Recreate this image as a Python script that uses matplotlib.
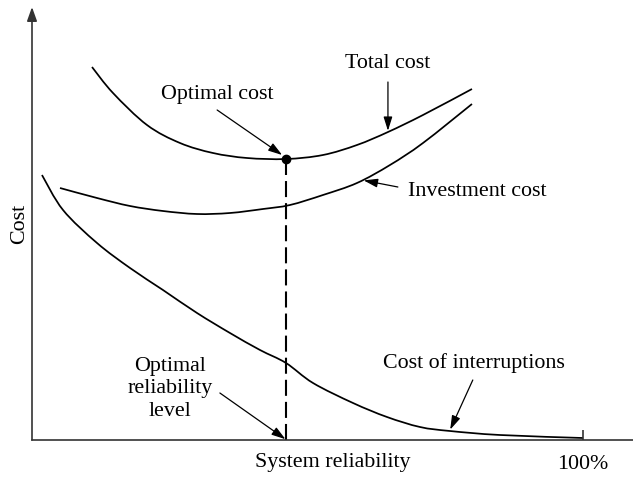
import matplotlib
matplotlib.use("Agg")
import matplotlib.pyplot as plt
from matplotlib.path import Path
from matplotlib.patches import PathPatch

plt.rcParams['font.family'] = ['Liberation Serif', 'DejaVu Serif']

# Data (x: system reliability in %, y: cost in arbitrary units)
total_x = [10.89, 14.70, 20.87, 26.86, 32.85, 39.02, 46.1, 52.81, 58.98, 64.61, 70.96, 79.85]
total_y = [93.25, 86.75, 78.75, 74.25, 71.75, 70.5, 70.25, 71.25, 73.75, 77.0, 81.25, 87.75]

invest_x = [5.08, 11.80, 17.79, 23.77, 29.95, 35.93, 41.92, 46.82, 52.81, 58.98, 64.97, 70.96, 79.85]
invest_y = [63.0, 60.5, 58.5, 57.25, 56.5, 56.75, 57.75, 58.75, 61.25, 64.25, 68.75, 74.25, 84.0]

interr_x = [1.81, 5.63, 11.80, 17.79, 23.77, 29.95, 35.93, 41.38, 46.1, 51.0, 58.26, 64.43,
            70.42, 75.86, 84.94, 100.0]
interr_y = [66.25, 57.5, 49.25, 43.0, 37.5, 31.75, 26.75, 22.5, 19.25, 14.25, 9.25, 5.75,
            3.25, 2.25, 1.25, 0.5]

optimal_x = 46.1
optimal_y = 70.25

xtick_vals = [100]
xtick_labels = ['100%']

FS = 15.8
AX_COLOR = '#333333'

fig = plt.figure(figsize=(6.33, 4.78), dpi=100)
ax = fig.add_axes([32 / 633, 38 / 478, 601 / 633, 433 / 478])
ax.set_xlim(0, 601 / 5.51)
ax.set_ylim(0, 433 / 4)

for s in ['top', 'right', 'left']:
    ax.spines[s].set_visible(False)
ax.spines['bottom'].set_color(AX_COLOR)
ax.spines['bottom'].set_linewidth(1.2)

# y axis with arrow
ax.annotate('', xy=(0, 1), xycoords='axes fraction', xytext=(0, 0), textcoords='axes fraction',
            arrowprops=dict(arrowstyle='-|>,head_length=0.7,head_width=0.25', mutation_scale=12,
                            lw=1.2, color=AX_COLOR, shrinkA=0, shrinkB=0), annotation_clip=False)

ax.set_yticks([])
ax.set_xticks(xtick_vals)
ax.set_xticklabels(xtick_labels, fontsize=FS)
ax.tick_params(axis='x', direction='in', length=7, width=1.2, color=AX_COLOR, pad=11)

fig.text(333 / 633, 1 - 463 / 478, 'System reliability', fontsize=FS, ha='center', va='center')
ax.set_ylabel('Cost', fontsize=FS, labelpad=2)


def smooth_curve(xs, ys, **kw):
    """Draw a smooth Catmull-Rom style curve through the given points."""
    pts = list(zip(xs, ys))
    n = len(pts)
    verts = [pts[0]]
    codes = [Path.MOVETO]
    for i in range(n - 1):
        p0 = pts[i - 1] if i > 0 else pts[i]
        p1 = pts[i]
        p2 = pts[i + 1]
        p3 = pts[i + 2] if i + 2 < n else pts[i + 1]
        c1 = (p1[0] + (p2[0] - p0[0]) / 6, p1[1] + (p2[1] - p0[1]) / 6)
        c2 = (p2[0] - (p3[0] - p1[0]) / 6, p2[1] - (p3[1] - p1[1]) / 6)
        verts += [c1, c2, p2]
        codes += [Path.CURVE4, Path.CURVE4, Path.CURVE4]
    patch = PathPatch(Path(verts, codes), facecolor='none', **kw)
    ax.add_patch(patch)


lw = 1.25
smooth_curve(total_x, total_y, edgecolor='black', lw=lw)
smooth_curve(invest_x, invest_y, edgecolor='black', lw=lw)
smooth_curve(interr_x, interr_y, edgecolor='black', lw=lw)

ax.plot([optimal_x, optimal_x], [0, optimal_y], color='black', lw=1.5, ls=(0, (7.7, 2.9)))
ax.plot([optimal_x], [optimal_y], 'o', color='black', ms=6)

arrow_kw = dict(arrowstyle='-|>,head_length=0.7,head_width=0.22', mutation_scale=12,
                lw=0.9, color='black', shrinkA=0, shrinkB=0)


def arrow(x0, y0, x1, y1):
    ax.annotate('', xy=(x1, y1), xytext=(x0, y0), arrowprops=arrow_kw)


# Optimal cost
ax.text(33.6, 86.25, 'Optimal cost', fontsize=FS, ha='center', va='center')
arrow(33.6, 82.5, 45.4, 71.25)

# Total cost
ax.text(64.6, 94.0, 'Total cost', fontsize=FS, ha='center', va='center')
arrow(64.6, 89.5, 64.6, 77.3)

# Investment cost
ax.text(68.2, 62.25, 'Investment cost', fontsize=FS, ha='left', va='center')
arrow(66.4, 63.25, 60.2, 64.9)

# Cost of interruptions
ax.text(80.2, 19.25, 'Cost of interruptions', fontsize=FS, ha='center', va='center')
arrow(80.0, 15.0, 75.9, 2.6)

# Optimal reliability level
ax.text(25.0, 12.75, 'Optimal\nreliability\nlevel', fontsize=FS, ha='center', va='center',
        linespacing=1.25)
arrow(34.1, 11.75, 46.0, 0.2)

fig.savefig('out.png', dpi=100)
